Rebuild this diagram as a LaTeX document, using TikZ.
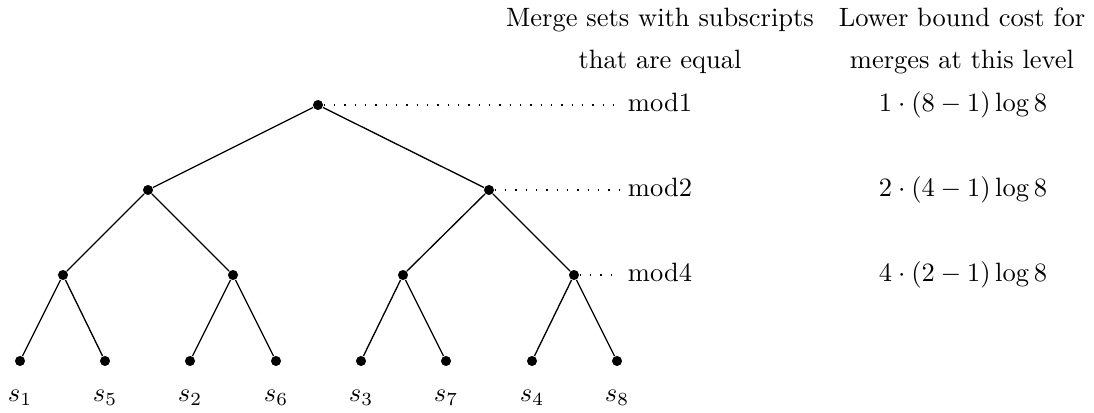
\documentclass[tikz,border=0pt]{standalone}
\begin{document}
\begin{tikzpicture}[x=0.3774pt,y=-0.3774pt,
  dot/.style={circle,fill=black,inner sep=0pt,minimum size=3.8pt},
  edge/.style={line width=0.5pt},
  guide/.style={line width=0.5pt,dash pattern=on 0.5pt off 3.4pt},
  txt/.style={anchor=base,inner sep=3.33pt}]
\useasboundingbox (0,0) rectangle (1094,413);
% tree nodes
\node[dot] (r) at (318,105) {};
\node[dot] (a) at (148,190) {};
\node[dot] (b) at (489,190) {};
\node[dot] (a1) at (63,275) {};
\node[dot] (a2) at (233,275) {};
\node[dot] (b1) at (403,275) {};
\node[dot] (b2) at (574,275) {};
\node[dot] (l1) at (20,361) {};
\node[dot] (l5) at (105,361) {};
\node[dot] (l2) at (190,361) {};
\node[dot] (l6) at (276,361) {};
\node[dot] (l3) at (361,361) {};
\node[dot] (l7) at (446,361) {};
\node[dot] (l4) at (532,361) {};
\node[dot] (l8) at (617,361) {};
% edges
\draw[edge] (r) -- (a);
\draw[edge] (r) -- (b);
\draw[edge] (a) -- (a1);
\draw[edge] (a) -- (a2);
\draw[edge] (b) -- (b1);
\draw[edge] (b) -- (b2);
\draw[edge] (a1) -- (l1);
\draw[edge] (a1) -- (l5);
\draw[edge] (a2) -- (l2);
\draw[edge] (a2) -- (l6);
\draw[edge] (b1) -- (l3);
\draw[edge] (b1) -- (l7);
\draw[edge] (b2) -- (l4);
\draw[edge] (b2) -- (l8);
% leaf labels
\node[txt] (s1) at (20,402) {$s_1$};
\node[txt] (s5) at (105,402) {$s_5$};
\node[txt] (s2) at (190,402) {$s_2$};
\node[txt] (s6) at (276,402) {$s_6$};
\node[txt] (s3) at (361,402) {$s_3$};
\node[txt] (s7) at (446,402) {$s_7$};
\node[txt] (s4) at (532,402) {$s_4$};
\node[txt] (s8) at (617,402) {$s_8$};
% headers
\node[txt] (h1a) at (660,27) {Merge sets with subscripts};
\node[txt] (h1b) at (660,69) {that are equal};
\node[txt] (h2a) at (962,27) {Lower bound cost for};
\node[txt] (h2b) at (962,69) {merges at this level};
% mod labels
\node[txt] (m1) at (660,112) {mod1};
\node[txt] (m2) at (660,197) {mod2};
\node[txt] (m4) at (660,282) {mod4};
% costs
\node[txt] (c1) at (963,112) {$1\cdot(8-1)\log 8$};
\node[txt] (c2) at (963,197) {$2\cdot(4-1)\log 8$};
\node[txt] (c4) at (963,282) {$4\cdot(2-1)\log 8$};
% guides
\draw[guide] (r) -- (r -| m1.west);
\draw[guide] (b) -- (b -| m2.west);
\draw[guide] (b2) -- (b2 -| m4.west);
\end{tikzpicture}
\end{document}
